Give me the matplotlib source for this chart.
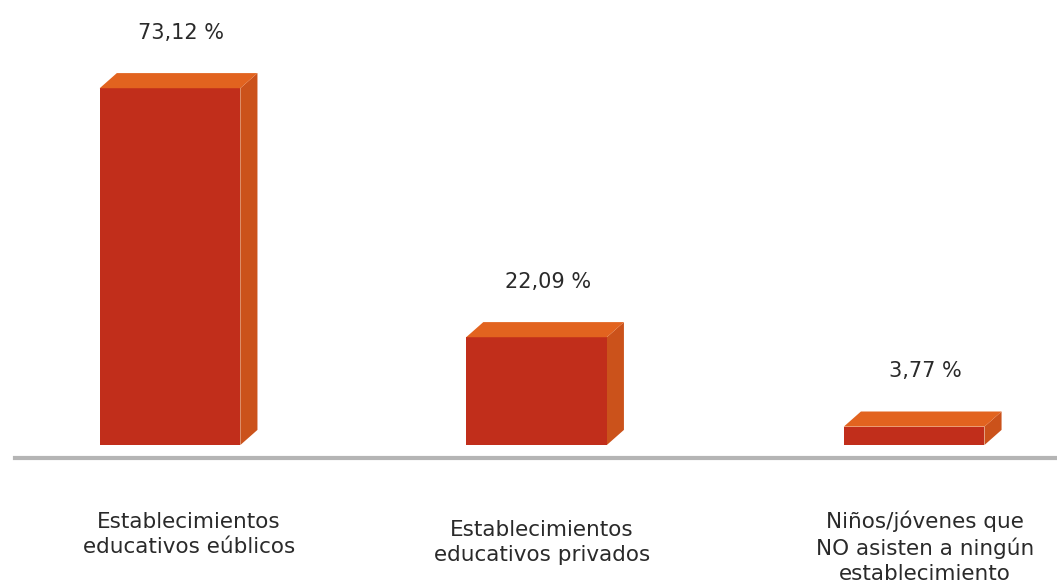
import matplotlib.pyplot as plt
from matplotlib.patches import Polygon

categories = ["Establecimientos\neducativos eúblicos",
              "Establecimientos\neducativos privados",
              "Niños/jóvenes que\nNO asisten a ningún\nestablecimiento"]
values = [73.12, 22.09, 3.77]
value_labels = ["73,12 %", "22,09 %", "3,77 %"]

front_col = '#C12E1B'
top_col = '#E2631F'
side_col = '#CB521B'

fig = plt.figure(figsize=(10.57, 5.88), dpi=100)
ax = fig.add_axes([0, 0, 1, 1])
ax.set_xlim(-0.457, 2.384)
ax.set_ylim(-29.3, 91.2)
ax.axis('off')

x = [0, 0.985, 2.0]
width = 0.378
dx = 0.046
dy = 3.1

ax.bar(x, values, width=width, color=front_col, zorder=3)
for xi, v, lab in zip(x, values, value_labels):
    x0 = xi - width / 2
    x1 = xi + width / 2
    # top face
    ax.add_patch(Polygon([(x0, v), (x0 + dx, v + dy), (x1 + dx, v + dy), (x1, v)],
                         closed=True, color=top_col, zorder=3, lw=0))
    # side face
    ax.add_patch(Polygon([(x1, 0), (x1 + dx, dy), (x1 + dx, v + dy), (x1, v)],
                         closed=True, color=side_col, zorder=2, lw=0))
    ax.text(xi + 0.03, v + 11.3, lab, ha='center', va='center', fontsize=15,
            color='#2a2a2a')

ax.axhline(-2.7, xmin=0.014, xmax=1, color='#B5B5B5', lw=3, zorder=1)

label_x = [0.05, 1.0, 2.03]
label_y = [-18.4, -19.9, -20.9]
for lx, ly, cat in zip(label_x, label_y, categories):
    ax.text(lx, ly, cat, ha='center', va='center', fontsize=15.5,
            color='#2a2a2a', linespacing=1.3)

fig.savefig('out.png', dpi=100)
